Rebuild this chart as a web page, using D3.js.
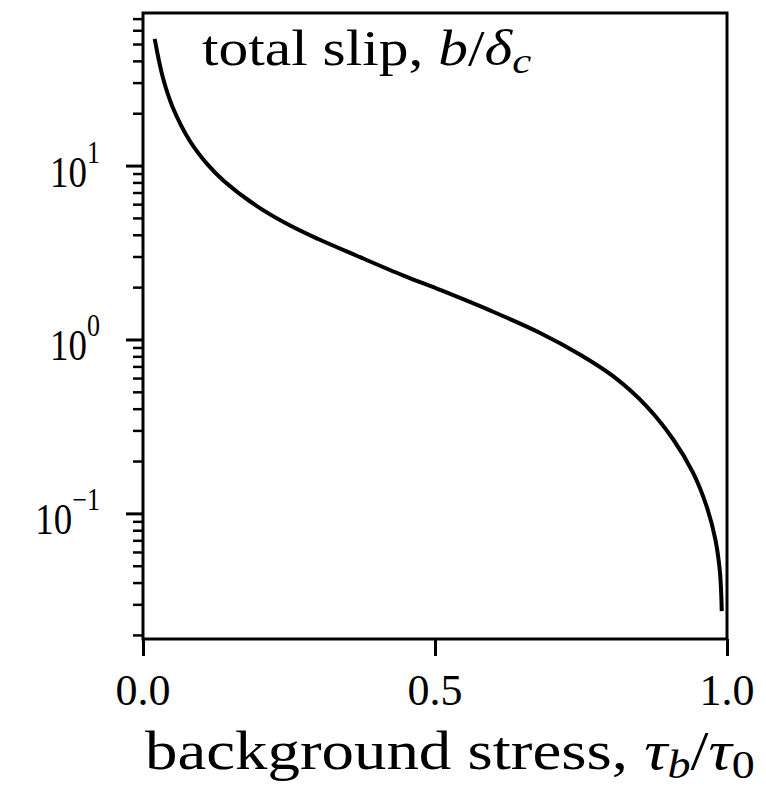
<!DOCTYPE html>
<html>
<head>
<meta charset="utf-8">
<script src="https://cdn.jsdelivr.net/npm/d3@7"></script>
<style>
  html, body { margin: 0; padding: 0; background: #fff; }
  svg { display: block; }
  text { font-family: "Liberation Serif", "DejaVu Serif", serif; fill: #000; }
</style>
</head>
<body>
<svg id="chart" width="766" height="789"></svg>
<script>
// background stress tau_b / tau_0
const stress = [0.020, 0.034, 0.051, 0.080, 0.110, 0.138, 0.195, 0.252, 0.300, 0.366,
                0.446, 0.510, 0.594, 0.680, 0.748, 0.805, 0.862, 0.908, 0.942, 0.965,
                0.980, 0.988, 0.991];
// total slip b / delta_c
const slip = [53.5, 32.1, 21.6, 13.9, 10.2, 8.19, 5.85, 4.52, 3.78, 3.03,
              2.33, 1.92, 1.47, 1.09, 0.820, 0.615, 0.414, 0.266, 0.171, 0.110,
              0.071, 0.0456, 0.0274];

const xTicks = [0.0, 0.5, 1.0];
const xTickLabels = ["0.0", "0.5", "1.0"];
const yMajorTicks = [0.1, 1, 10];
const yMajorExponents = ["\u22121", "0", "1"];
const xDomain = [0, 1];
const yDomain = [0.01895, 75.4];

const plot = { left: 143, right: 727, top: 13, bottom: 639 };

const svg = d3.select("#chart");

const x = d3.scaleLinear().domain(xDomain).range([plot.left, plot.right]);
const y = d3.scaleLog().domain(yDomain).range([plot.bottom, plot.top]);

// minor log ticks: 2..9 of each decade inside the domain
const yMinorTicks = [];
[0.01, 0.1, 1, 10].forEach(d => {
  for (let k = 2; k <= 9; k++) {
    const v = d * k;
    if (v >= yDomain[0] && v <= yDomain[1]) yMinorTicks.push(v);
  }
});

// slip curve
const line = d3.line()
  .x((d, i) => x(stress[i]))
  .y((d, i) => y(slip[i]))
  .curve(d3.curveCatmullRom.alpha(0.5));

svg.append("path")
  .datum(slip)
  .attr("d", line)
  .attr("fill", "none")
  .attr("stroke", "#000")
  .attr("stroke-width", 4)
  .attr("stroke-linecap", "butt");

// frame
svg.append("rect")
  .attr("x", plot.left).attr("y", plot.top)
  .attr("width", plot.right - plot.left).attr("height", plot.bottom - plot.top)
  .attr("fill", "none").attr("stroke", "#000").attr("stroke-width", 3);

// y axis ticks
const yAxisMajor = d3.axisLeft(y).tickValues(yMajorTicks).tickSize(17).tickFormat("");
const yAxisMinor = d3.axisLeft(y).tickValues(yMinorTicks).tickSize(10).tickFormat("");
[yAxisMinor, yAxisMajor].forEach((ax, i) => {
  const g = svg.append("g").attr("transform", `translate(${plot.left},0)`).call(ax);
  g.select(".domain").remove();
  g.selectAll(".tick line").attr("stroke", "#000").attr("stroke-width", i ? 3 : 2.5);
});

// y tick labels 10^n
yMajorTicks.forEach((v, i) => {
  const t = svg.append("text")
    .attr("transform", `translate(100,${y(v) + 21}) scale(0.84,1)`)
    .attr("text-anchor", "end")
    .style("font-size", "44px");
  t.append("tspan").text("10");
  t.append("tspan").attr("dy", -24).style("font-size", "31px").text(yMajorExponents[i]);
});

// x axis ticks
const xAxis = d3.axisBottom(x).tickValues(xTicks).tickSize(17).tickFormat("");
const gx = svg.append("g").attr("transform", `translate(0,${plot.bottom})`).call(xAxis);
gx.select(".domain").remove();
gx.selectAll(".tick line").attr("stroke", "#000").attr("stroke-width", 3);

xTicks.forEach((v, i) => {
  svg.append("text")
    .attr("x", x(v))
    .attr("y", 705)
    .attr("text-anchor", "middle")
    .style("font-size", "44px")
    .text(xTickLabels[i]);
});

// in-plot title
const title = svg.append("text")
  .attr("transform", "translate(202,65) scale(1.19,1)")
  .style("font-size", "50px");
title.append("tspan").text("total slip, ");
title.append("tspan").style("font-style", "italic").text("b");
title.append("tspan").text("/");
title.append("tspan").style("font-style", "italic").text("\u03B4");
title.append("tspan").style("font-style", "italic").style("font-size", "36px").attr("dy", 8).text("c");

// x axis label
const xl = svg.append("text")
  .attr("transform", "translate(145,769) scale(1.18,1)")
  .style("font-size", "55px");
xl.append("tspan").text("background stress, ");
xl.append("tspan").style("font-style", "italic").text("\u03C4");
xl.append("tspan").style("font-style", "italic").style("font-size", "39px").attr("dy", 9).text("b");
xl.append("tspan").attr("dy", -9).text("/");
xl.append("tspan").style("font-style", "italic").text("\u03C4");
xl.append("tspan").style("font-size", "39px").attr("dy", 9).text("0");
</script>
</body>
</html>
